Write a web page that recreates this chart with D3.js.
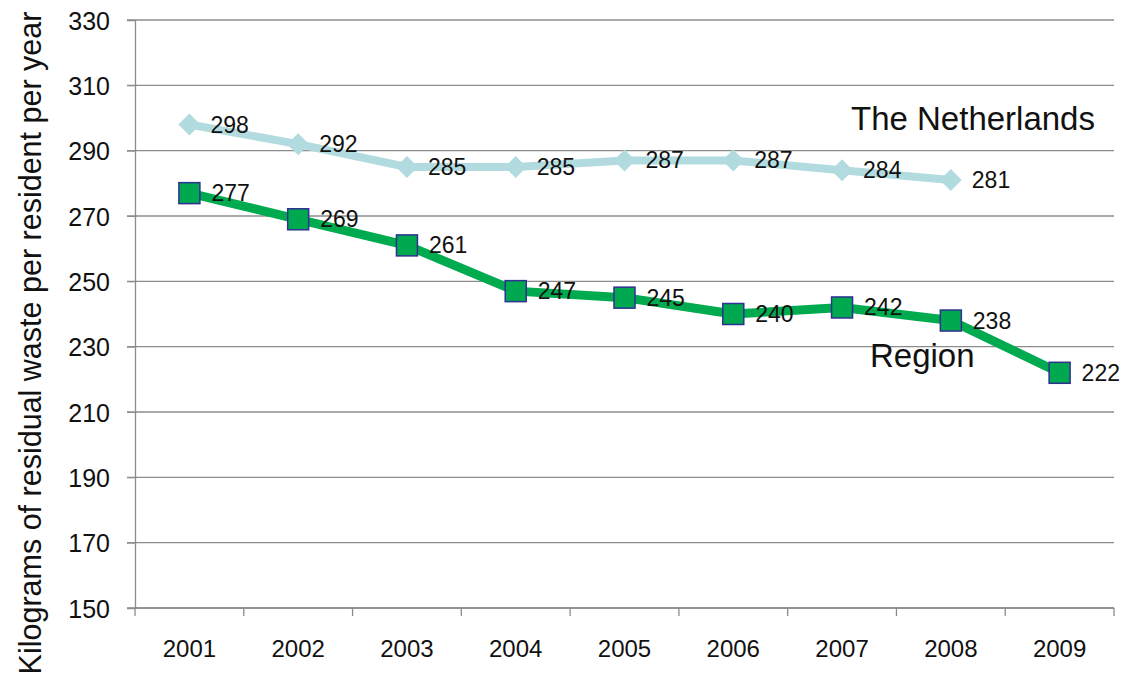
<!DOCTYPE html>
<html>
<head>
<meta charset="utf-8">
<script src="https://cdn.jsdelivr.net/npm/d3@7"></script>
<style>
  body { margin: 0; background: #fff; }
  text { font-family: "Liberation Sans", Arial, sans-serif; fill: #111; }
</style>
</head>
<body>
<div id="chart"></div>
<script>
"use strict";

const years = ["2001", "2002", "2003", "2004", "2005", "2006", "2007", "2008", "2009"];
const netherlands = [298, 292, 285, 285, 287, 287, 284, 281, null];
const region = [277, 269, 261, 247, 245, 240, 242, 238, 222];
const yTicks = [150, 170, 190, 210, 230, 250, 270, 290, 310, 330];

(function () {
    const width = 1132;
    const height = 676;
    const left = 135, right = 1114, top = 20, bottom = 608;

    const svg = d3.select("#chart").append("svg")
        .attr("width", width)
        .attr("height", height);

    const x = d3.scaleBand().domain(years).range([left, right]);
    const y = d3.scaleLinear().domain([150, 330]).range([bottom, top]);

    // gridlines
    svg.append("g")
        .selectAll("line")
        .data(yTicks)
        .enter().append("line")
        .attr("x1", left - 8).attr("x2", right)
        .attr("y1", d => y(d)).attr("y2", d => y(d))
        .attr("stroke", "#8c8c8c").attr("stroke-width", 1.3);

    // y axis
    const yAxis = svg.append("g")
        .attr("transform", `translate(${left},0)`)
        .call(d3.axisLeft(y).tickValues(yTicks).tickSize(8).tickPadding(17));
    yAxis.attr("font-size", null).attr("font-family", null);
    yAxis.select(".domain").attr("stroke", "#8c8c8c").attr("stroke-width", 1.3);
    yAxis.selectAll(".tick line").attr("stroke", "#8c8c8c");
    yAxis.selectAll("text")
        .style("font-size", "25px")
        .attr("dy", "0.36em")
        .attr("fill", "#111");

    // x axis, ticks between categories
    const xAxis = svg.append("g").attr("transform", `translate(0,${bottom})`);
    xAxis.append("line")
        .attr("x1", left).attr("x2", right)
        .attr("stroke", "#8c8c8c").attr("stroke-width", 1.3);
    const edges = years.map(d => x(d)).concat([right]);
    xAxis.selectAll(".edge")
        .data(edges)
        .enter().append("line")
        .attr("x1", d => d).attr("x2", d => d)
        .attr("y1", 0).attr("y2", 8)
        .attr("stroke", "#8c8c8c").attr("stroke-width", 1.3);
    xAxis.selectAll(".lbl")
        .data(years)
        .enter().append("text")
        .attr("x", d => x(d) + x.bandwidth() / 2)
        .attr("y", 49)
        .attr("text-anchor", "middle")
        .style("font-size", "24px")
        .text(d => d);

    // y axis title
    svg.append("text")
        .attr("transform", `translate(41,343) rotate(-90)`)
        .attr("text-anchor", "middle")
        .style("font-size", "30.5px")
        .text("Kilograms of residual waste per resident per year");

    const cx = i => x(years[i]) + x.bandwidth() / 2;

    const line = d3.line()
        .defined(d => d != null)
        .x((d, i) => cx(i))
        .y(d => y(d));

    // Netherlands
    svg.append("path")
        .datum(netherlands)
        .attr("d", line)
        .attr("fill", "none")
        .attr("stroke", "#b2dbe0")
        .attr("stroke-width", 8)
        .attr("stroke-linejoin", "round");

    const nlPts = netherlands.map((v, i) => ({ v, i })).filter(d => d.v != null);
    svg.append("g").selectAll("path")
        .data(nlPts)
        .enter().append("path")
        .attr("transform", d => `translate(${cx(d.i)},${y(d.v)})`)
        .attr("d", "M0,-11L11,0L0,11L-11,0Z")
        .attr("fill", "#b2dbe0");

    svg.append("g").selectAll("text")
        .data(nlPts)
        .enter().append("text")
        .attr("x", d => cx(d.i) + 21)
        .attr("y", d => y(d.v) + 8)
        .style("font-size", "23px")
        .text(d => d.v);

    // Region
    svg.append("path")
        .datum(region)
        .attr("d", line)
        .attr("fill", "none")
        .attr("stroke", "#00aa4f")
        .attr("stroke-width", 9)
        .attr("stroke-linejoin", "round");

    const rgPts = region.map((v, i) => ({ v, i }));
    svg.append("g").selectAll("rect")
        .data(rgPts)
        .enter().append("rect")
        .attr("x", d => cx(d.i) - 10.5)
        .attr("y", d => y(d.v) - 10.5)
        .attr("width", 21).attr("height", 21)
        .attr("fill", "#00a84f")
        .attr("stroke", "#2e3192")
        .attr("stroke-width", 1.5);

    svg.append("g").selectAll("text")
        .data(rgPts)
        .enter().append("text")
        .attr("x", d => cx(d.i) + 22)
        .attr("y", d => y(d.v) + 8)
        .style("font-size", "23px")
        .text(d => d.v);

    // series names
    svg.append("text")
        .attr("x", 851).attr("y", 130)
        .style("font-size", "33px")
        .text("The Netherlands");
    svg.append("text")
        .attr("x", 870).attr("y", 367)
        .style("font-size", "33px")
        .text("Region");
})();
</script>
</body>
</html>
